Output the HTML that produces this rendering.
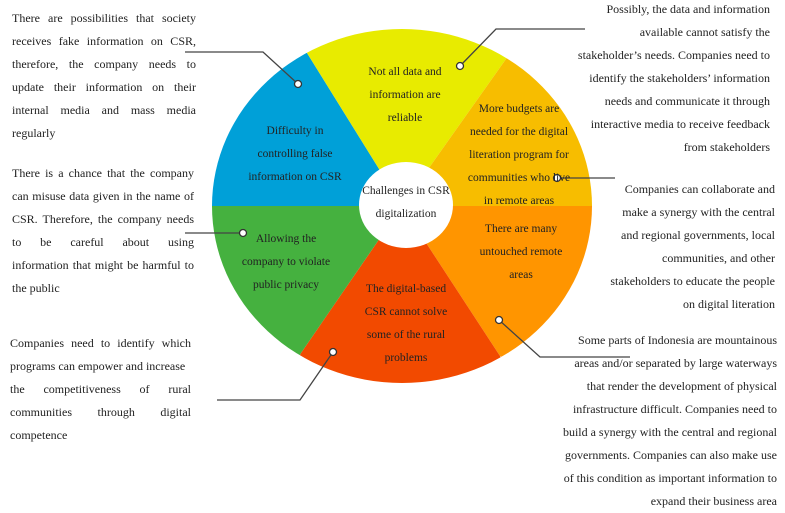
<!DOCTYPE html>
<html><head><meta charset="utf-8"><style>
html,body{margin:0;padding:0;background:#fff;}
body{width:785px;height:510px;position:relative;overflow:hidden;font-family:"Liberation Serif",serif;color:#222;}
.b{position:absolute;font-size:12px;line-height:23px;}
.b div{height:23px;white-space:nowrap;}
.j div{text-align:justify;text-align-last:justify;}
.j div.l{text-align-last:left;}
.r div{text-align:right;}
svg{position:absolute;left:0;top:0;}
</style></head><body>
<svg width="785" height="510" viewBox="0 0 785 510">
<defs><clipPath id="c"><ellipse cx="402" cy="206" rx="190" ry="177"/></clipPath></defs>
<g clip-path="url(#c)">
<polygon points="402,206 307,53 170,-60 150,206" fill="#00A0D8"/>
<polygon points="402,206 307,53 250,-40 560,-40 506,59" fill="#E8EB00"/>
<polygon points="402,206 506,59 560,-40 650,-40 650,206" fill="#F7BD00"/>
<polygon points="402,206 650,206 650,450 500,356" fill="#FF9500"/>
<polygon points="402,206 500,356 560,450 250,450 301,353" fill="#F24A00"/>
<polygon points="402,206 301,353 250,450 150,450 150,206" fill="#45B13F"/>
</g>
<ellipse cx="406" cy="205" rx="47" ry="43" fill="#fff"/>
<g fill="none" stroke="#444" stroke-width="1.3">
<polyline points="185,52 263,52 298,84"/>
<polyline points="585,29 496,29 460,66"/>
<polyline points="615,178 557,178"/>
<polyline points="185,233 243,233"/>
<polyline points="217,400 300,400 333,352"/>
<polyline points="630,357 540,357 499,320"/>
</g>
<g fill="#fff" stroke="#333" stroke-width="1.3">
<circle cx="298" cy="84" r="3.5"/><circle cx="460" cy="66" r="3.5"/><circle cx="557" cy="178" r="3.5"/>
<circle cx="243" cy="233" r="3.5"/><circle cx="333" cy="352" r="3.5"/><circle cx="499" cy="320" r="3.5"/>
</g>
<g font-family="Liberation Serif, serif" font-size="11.5" fill="#222" text-anchor="middle" dominant-baseline="central">
<text x="405" y="72">Not all data and</text><text x="405" y="95">information are</text><text x="405" y="118">reliable</text>
<text x="295" y="131">Difficulty in</text><text x="295" y="154">controlling false</text><text x="295" y="177">information on CSR</text>
<text x="519" y="109">More budgets are</text><text x="519" y="132">needed for the digital</text><text x="519" y="155">literation program for</text><text x="519" y="178">communities who live</text><text x="519" y="201">in remote areas</text>
<text x="406" y="191">Challenges in CSR</text><text x="406" y="214">digitalization</text>
<text x="286" y="239">Allowing the</text><text x="286" y="262">company to violate</text><text x="286" y="285">public privacy</text>
<text x="406" y="289">The digital-based</text><text x="406" y="312">CSR cannot solve</text><text x="406" y="335">some of the rural</text><text x="406" y="358">problems</text>
<text x="521" y="229">There are many</text><text x="521" y="252">untouched remote</text><text x="521" y="275">areas</text>
</g>
</svg>
<div class="b j" style="left:12px;top:7px;width:184px">
<div>There are possibilities that society</div><div>receives fake information on CSR,</div><div>therefore, the company needs to</div><div>update their information on their</div><div>internal media and mass media</div><div class="l">regularly</div></div>
<div class="b j" style="left:12px;top:162px;width:182px">
<div>There is a chance that the company</div><div>can misuse data given in the name of</div><div>CSR. Therefore, the company needs</div><div>to be careful about using</div><div>information that might be harmful to</div><div class="l">the public</div></div>
<div class="b j" style="left:10px;top:332px;width:181px">
<div>Companies need to identify which</div><div class="l">programs can empower and increase</div><div>the competitiveness of rural</div><div>communities through digital</div><div class="l">competence</div></div>
<div class="b r" style="left:560px;top:-2px;width:210px">
<div>Possibly, the data and information</div><div>available cannot satisfy the</div><div>stakeholder’s needs. Companies need to</div><div>identify the stakeholders’ information</div><div>needs and communicate it through</div><div>interactive media to receive feedback</div><div>from stakeholders</div></div>
<div class="b r" style="left:585px;top:178px;width:190px">
<div>Companies can collaborate and</div><div>make a synergy with the central</div><div>and regional governments, local</div><div>communities, and other</div><div>stakeholders to educate the people</div><div>on digital literation</div></div>
<div class="b r" style="left:540px;top:329px;width:237px">
<div>Some parts of Indonesia are mountainous</div><div>areas and/or separated by large waterways</div><div>that render the development of physical</div><div>infrastructure difficult. Companies need to</div><div>build a synergy with the central and regional</div><div>governments. Companies can also make use</div><div>of this condition as important information to</div><div>expand their business area</div></div>
</body></html>
